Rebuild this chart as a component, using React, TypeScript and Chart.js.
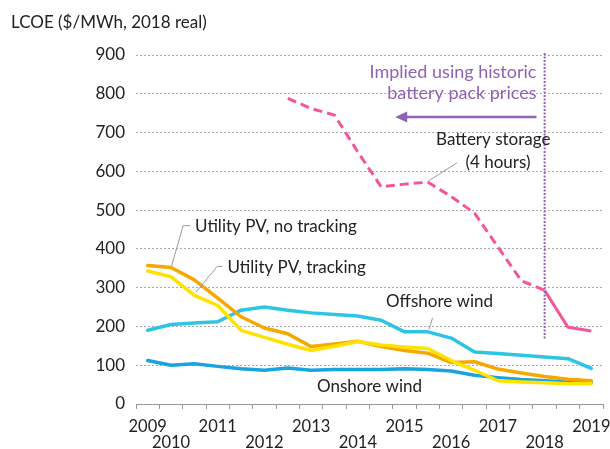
import React, { useEffect, useRef } from 'react';
import { Chart, registerables } from 'chart.js';

Chart.register(...registerables);

// Half-year periods (2H 2009 ... 1H 2019)
const periods = [
  '2H 2009', '1H 2010', '2H 2010', '1H 2011', '2H 2011', '1H 2012', '2H 2012', '1H 2013', '2H 2013', '1H 2014',
  '2H 2014', '1H 2015', '2H 2015', '1H 2016', '2H 2016', '1H 2017', '2H 2017', '1H 2018', '2H 2018', '1H 2019',
];
const yearTicks = ['2009', '2010', '', '2011', '', '2012', '', '2013', '', '2014', '', '2015', '', '2016', '', '2017', '', '2018', '', '2019'];

const pvTracking = [343, 328, 280, 254, 190, 172, 154, 138, 149, 161, 152, 147, 143, 112, 87, 60, 57, 55, 52, 52];
const pvNoTracking = [357, 352, 320, 273, 225, 196, 181, 148, 155, 162, 148, 138, 131, 107, 109, 90, 80, 71, 64, 60];
const onshoreWind = [112, 100, 104, 97, 91, 87, 93, 87, 89, 89, 89, 91, 89, 85, 74, 68, 63, 60, 57, 55];
const offshoreWind = [190, 205, 209, 212, 242, 250, 242, 235, 231, 227, 216, 186, 186, 170, 134, 130, 126, 121, 117, 92];
const batteryStorage = [null, null, null, null, null, null, 788, 762, 745, 650, 560, 567, 572, 535, 492, 405, 318, 293, 198, 188];

const yMin = 0;
const yMax = 900;
const yStep = 100;
const historicEndIndex = 17; // 1H 2018

const FONT = 'Lato';
const TEXT = '#222222';
const PURPLE = '#9062b6';
const LEADER = '#9a9a9a';

const annotationPlugin = {
  id: 'annotations',
  afterDatasetsDraw(chart: any) {
    const { ctx } = chart;
    const xs = chart.scales.x;
    const ys = chart.scales.y;
    const X = (i: number) => xs.getPixelForValue(i);
    const Y = (v: number) => ys.getPixelForValue(v);
    ctx.save();

    // vertical dotted line at 1H 2018
    ctx.strokeStyle = PURPLE;
    ctx.lineWidth = 2;
    ctx.setLineDash([2, 1.5]);
    ctx.beginPath();
    ctx.moveTo(X(historicEndIndex), Y(905));
    ctx.lineTo(X(historicEndIndex), Y(165));
    ctx.stroke();
    ctx.setLineDash([]);

    // arrow
    const ax1 = X(16.65);
    const ax2 = X(10.6);
    const ay = Y(740);
    ctx.lineWidth = 2.5;
    ctx.beginPath();
    ctx.moveTo(ax1, ay);
    ctx.lineTo(ax2 + 8, ay);
    ctx.stroke();
    ctx.fillStyle = PURPLE;
    ctx.beginPath();
    ctx.moveTo(ax2, ay);
    ctx.lineTo(ax2 + 12, ay - 5.5);
    ctx.lineTo(ax2 + 12, ay + 5.5);
    ctx.closePath();
    ctx.fill();

    // purple text
    ctx.font = `18px ${FONT}`;
    ctx.textAlign = 'right';
    ctx.textBaseline = 'middle';
    ctx.fillText('Implied using historic', X(16.65), Y(856));
    ctx.fillText('battery pack prices', X(16.65), Y(802));

    // leaders
    ctx.strokeStyle = LEADER;
    ctx.lineWidth = 1;
    const leader = (pts: number[][]) => {
      ctx.beginPath();
      pts.forEach((p, k) => {
        const px = X(p[0]);
        const py = Y(p[1]);
        if (k === 0) ctx.moveTo(px, py);
        else ctx.lineTo(px, py);
      });
      ctx.stroke();
    };
    leader([[1.83, 460], [1.52, 460], [1.02, 355]]);
    leader([[3.2, 355], [2.98, 355], [2.06, 288]]);
    leader([[13.25, 622], [12.05, 576]]);
    leader([[12.2, 222], [12.05, 192]]);

    // black labels
    ctx.fillStyle = TEXT;
    ctx.font = `17px ${FONT}`;
    ctx.textAlign = 'left';
    ctx.fillText('Utility PV, no tracking', X(2.03), Y(458));
    ctx.fillText('Utility PV, tracking', X(3.42), Y(353));
    ctx.textAlign = 'center';
    ctx.fillText('Battery storage', X(14.8), Y(681));
    ctx.fillText('(4 hours)', X(15.0), Y(624));
    ctx.fillText('Offshore wind', X(12.5), Y(263));
    ctx.fillText('Onshore wind', X(9.5), Y(44));
    ctx.restore();
  },
};

export default function App() {
  const canvasRef = useRef<HTMLCanvasElement | null>(null);

  useEffect(() => {
    if (!canvasRef.current) return;
    const line = (data: (number | null)[], color: string, extra: any = {}) => ({
      data,
      borderColor: color,
      backgroundColor: color,
      borderWidth: 3.5,
      pointRadius: 0,
      tension: 0,
      fill: false,
      borderCapStyle: 'round',
      borderJoinStyle: 'round',
      ...extra,
    });
    const chart = new Chart(canvasRef.current, {
      type: 'line',
      data: {
        labels: periods,
        datasets: [
          line(pvTracking, '#ffe300', { label: 'Utility PV, tracking' }),
          line(pvNoTracking, '#f6a800', { label: 'Utility PV, no tracking' }),
          line(onshoreWind, '#1aa4de', { label: 'Onshore wind' }),
          line(offshoreWind, '#2ec5e4', { label: 'Offshore wind' }),
          line(batteryStorage, '#f2569b', {
            label: 'Battery storage (4 hours)',
            borderWidth: 3,
            borderCapStyle: 'butt',
            spanGaps: false,
            segment: {
              borderDash: (c: any) => (c.p0DataIndex < historicEndIndex ? [9, 5] : undefined),
            },
          }),
        ],
      },
      options: {
        responsive: false,
        animation: false,
        layout: { padding: { left: 11, right: 7, top: 0, bottom: 0 } },
        plugins: {
          legend: { display: false },
          tooltip: { enabled: false },
          title: {
            display: true,
            text: 'LCOE ($/MWh, 2018 real)',
            align: 'start',
            color: TEXT,
            font: { family: FONT, size: 17, weight: 'normal', lineHeight: 1.2 },
            padding: { top: 12, bottom: 22.6 },
          },
        },
        scales: {
          x: {
            type: 'category',
            offset: true,
            grid: {
              display: true,
              drawOnChartArea: false,
              drawTicks: true,
              tickLength: 5,
              offset: true,
              color: '#9a9a9a',
              lineWidth: 1,
            },
            border: { display: true, color: '#9a9a9a', width: 1 },
            ticks: {
              autoSkip: false,
              maxRotation: 0,
              minRotation: 0,
              padding: 10,
              color: TEXT,
              font: { family: FONT, size: 16.5, lineHeight: 0.97 },
              callback: (_v: any, index: number) => {
                const t = yearTicks[index];
                if (!t) return '';
                return Number(t) % 2 === 1 ? [t] : ['', t];
              },
            },
            afterFit: (scale: any) => {
              scale.height = 45;
              scale.paddingLeft = 0;
              scale.paddingRight = 0;
            },
          },
          y: {
            min: yMin,
            max: yMax,
            grid: {
              drawTicks: false,
              color: '#a9a9a9',
              lineWidth: 1,
            },
            border: { display: false, dash: [2, 2] },
            ticks: {
              stepSize: yStep,
              padding: 11,
              color: TEXT,
              font: { family: FONT, size: 17 },
            },
            afterFit: (scale: any) => {
              scale.width = 125;
            },
          },
        },
      },
      plugins: [annotationPlugin],
    } as any);
    return () => chart.destroy();
  }, []);

  return (
    <div style={{ position: 'fixed', left: 0, top: 0, width: 610, height: 449, background: '#fff' }}>
      <canvas ref={canvasRef} width={610} height={449} style={{ display: 'block' }} />
    </div>
  );
}
